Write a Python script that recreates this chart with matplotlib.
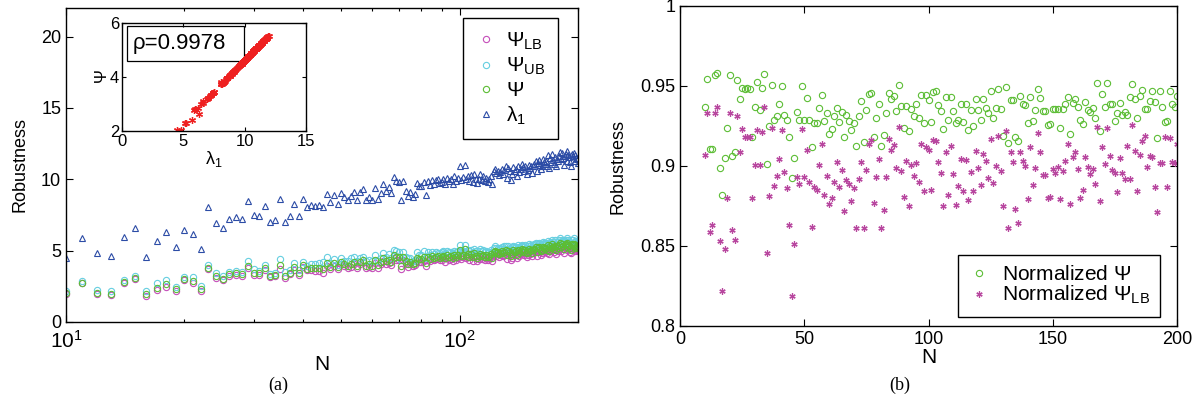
import numpy as np
import matplotlib.pyplot as plt
from matplotlib.patches import Rectangle
from matplotlib.ticker import FixedLocator, FixedFormatter, NullFormatter, LogLocator

plt.rcParams['font.family'] = ['Liberation Sans', 'DejaVu Sans']
plt.rcParams['mathtext.fontset'] = 'custom'
plt.rcParams['mathtext.rm'] = 'Liberation Sans'
plt.rcParams['mathtext.it'] = 'Liberation Sans:italic'
plt.rcParams['mathtext.bf'] = 'Liberation Sans:bold'

# network size N (10..200)
N = np.arange(10, 201)

# largest eigenvalue lambda_1
lam1 = [4.45, 5.86, 4.81, 4.64, 5.98, 6.59, 4.55, 5.70, 6.28, 5.25,
        6.45, 6.19, 5.13, 8.04, 6.96, 6.59, 7.25, 7.39, 7.25, 8.49,
        7.50, 7.43, 8.16, 7.01, 7.15, 8.60, 7.01, 7.46, 8.28, 7.43,
        8.60, 8.09, 8.21, 8.14, 8.21, 8.09, 8.96, 8.39, 8.93, 8.28,
        9.07, 8.75, 8.56, 8.84, 9.12, 8.56, 9.10, 9.33, 8.56, 8.79,
        8.56, 9.38, 8.60, 9.07, 9.64, 9.21, 9.45, 9.07, 10.15, 9.89,
        9.78, 8.56, 9.85, 9.21, 8.84, 9.14, 8.79, 8.96, 9.73, 9.50,
        9.50, 9.78, 8.91, 9.85, 9.60, 9.95, 9.70, 9.92, 10.00, 9.75,
        9.80, 10.05, 9.65, 10.10, 9.85, 10.00, 9.70, 10.20, 9.90, 10.10,
        10.90, 9.95, 10.15, 11.00, 10.00, 10.25, 9.90, 10.30, 9.80, 10.40,
        10.05, 9.75, 10.00, 10.35, 9.95, 10.20, 9.85, 10.10, 9.80, 10.00,
        10.25, 9.70, 10.55, 10.70, 10.45, 10.60, 10.30, 10.50, 10.75, 10.40,
        10.65, 10.90, 10.10, 10.80, 10.55, 9.95, 10.35, 10.85, 10.60, 10.70,
        10.20, 10.95, 10.50, 10.75, 11.05, 10.85, 10.60, 10.95, 10.40, 10.65,
        11.00, 10.80, 10.90, 10.45, 10.95, 11.10, 11.30, 10.55, 11.15, 11.35,
        11.00, 10.70, 10.95, 11.40, 11.20, 11.05, 11.25, 10.90, 11.70, 10.80,
        11.50, 11.20, 11.80, 11.35, 11.10, 11.55, 10.90, 11.45, 11.25, 11.60,
        11.90, 11.40, 11.85, 11.50, 11.00, 11.65, 11.75, 11.95, 11.30, 11.70,
        11.55, 11.20, 10.95, 11.80, 11.60, 11.85, 11.25, 11.70, 11.50, 11.40,
        11.15]

psi = [2.05, 2.76, 2.05, 1.98, 2.83, 3.11, 1.94, 2.40, 2.64, 2.29,
       3.00, 2.85, 2.30, 3.80, 3.20, 3.03, 3.34, 3.40, 3.34, 3.91,
       3.45, 3.42, 3.76, 3.22, 3.29, 3.97, 3.22, 3.43, 3.82, 3.42,
       3.97, 3.73, 3.78, 3.75, 3.78, 3.73, 4.13, 3.87, 4.12, 3.82,
       4.19, 4.04, 3.95, 4.08, 4.21, 3.95, 4.20, 4.31, 3.95, 4.05,
       3.95, 4.33, 3.97, 4.19, 4.45, 4.25, 4.36, 4.19, 4.69, 4.57,
       4.52, 3.95, 4.55, 4.25, 4.08, 4.22, 4.05, 4.13, 4.49, 4.39,
       4.39, 4.52, 4.11, 4.55, 4.43, 4.60, 4.48, 4.58, 4.62, 4.50,
       4.53, 4.64, 4.46, 4.67, 4.55, 4.62, 4.48, 4.71, 4.57, 4.67,
       5.04, 4.60, 4.69, 5.09, 4.62, 4.74, 4.57, 4.76, 4.53, 4.81,
       4.64, 4.50, 4.62, 4.78, 4.60, 4.71, 4.55, 4.67, 4.53, 4.62,
       4.74, 4.48, 4.88, 4.95, 4.83, 4.90, 4.76, 4.85, 4.97, 4.81,
       4.92, 5.04, 4.67, 4.99, 4.88, 4.60, 4.78, 5.02, 4.90, 4.95,
       4.71, 5.06, 4.85, 4.97, 5.11, 5.02, 4.90, 5.06, 4.81, 4.92,
       5.09, 4.99, 5.04, 4.83, 5.06, 5.13, 5.23, 4.88, 5.16, 5.25,
       5.09, 4.95, 5.06, 5.27, 5.18, 5.11, 5.20, 5.04, 5.41, 4.99,
       5.32, 5.18, 5.46, 5.25, 5.13, 5.34, 5.04, 5.30, 5.20, 5.37,
       5.51, 5.27, 5.48, 5.32, 5.09, 5.39, 5.44, 5.53, 5.23, 5.41,
       5.34, 5.18, 5.06, 5.46, 5.37, 5.48, 5.20, 5.41, 5.32, 5.27,
       5.16]

psi_ub = [2.19, 2.89, 2.25, 2.17, 2.96, 3.25, 2.16, 2.72, 2.92, 2.48,
          3.13, 3.15, 2.53, 3.98, 3.40, 3.19, 3.52, 3.58, 3.52, 4.26,
          3.68, 3.59, 4.02, 3.39, 3.44, 4.40, 3.48, 3.61, 4.11, 3.67,
          4.23, 3.93, 4.06, 4.04, 4.12, 4.18, 4.56, 4.15, 4.43, 4.02,
          4.51, 4.29, 4.25, 4.47, 4.54, 4.26, 4.49, 4.56, 4.26, 4.34,
          4.29, 4.69, 4.26, 4.48, 4.80, 4.55, 4.75, 4.50, 5.05, 4.95,
          4.88, 4.33, 4.89, 4.52, 4.46, 4.51, 4.29, 4.37, 4.89, 4.72,
          4.68, 4.95, 4.47, 4.88, 4.68, 4.88, 4.75, 4.90, 4.86, 4.80,
          4.90, 4.95, 4.84, 4.99, 4.88, 4.92, 4.82, 4.99, 4.93, 4.94,
          5.36, 4.96, 4.96, 5.38, 4.93, 5.07, 4.95, 5.05, 4.88, 5.10,
          4.97, 4.86, 4.97, 5.09, 4.96, 5.02, 4.93, 4.99, 4.90, 4.90,
          5.07, 4.82, 5.18, 5.29, 5.18, 5.17, 5.12, 5.18, 5.24, 5.14,
          5.35, 5.31, 5.11, 5.30, 5.18, 5.01, 5.22, 5.32, 5.22, 5.28,
          5.08, 5.36, 5.23, 5.32, 5.39, 5.33, 5.24, 5.41, 5.20, 5.31,
          5.44, 5.33, 5.39, 5.23, 5.41, 5.47, 5.55, 5.30, 5.49, 5.57,
          5.43, 5.33, 5.46, 5.61, 5.54, 5.47, 5.56, 5.42, 5.68, 5.41,
          5.63, 5.53, 5.74, 5.59, 5.46, 5.75, 5.40, 5.64, 5.58, 5.75,
          5.91, 5.59, 5.76, 5.65, 5.47, 5.71, 5.74, 5.91, 5.59, 5.75,
          5.64, 5.51, 5.52, 5.77, 5.73, 5.91, 5.60, 5.71, 5.67, 5.62,
          5.47]

psi_lb = [1.98, 2.70, 1.93, 1.88, 2.76, 3.04, 1.84, 2.24, 2.47, 2.18,
          2.92, 2.71, 2.16, 3.71, 3.09, 2.95, 3.23, 3.29, 3.23, 3.75,
          3.31, 3.31, 3.62, 3.12, 3.22, 3.72, 3.07, 3.33, 3.65, 3.28,
          3.83, 3.62, 3.64, 3.58, 3.55, 3.42, 3.89, 3.70, 3.94, 3.71,
          4.03, 3.90, 3.79, 3.85, 4.03, 3.77, 4.04, 4.17, 3.75, 3.88,
          3.76, 4.13, 3.79, 4.04, 4.25, 4.08, 4.14, 4.01, 4.49, 4.35,
          4.32, 3.73, 4.36, 4.08, 3.84, 4.05, 3.92, 4.00, 4.29, 4.22,
          4.23, 4.26, 3.90, 4.36, 4.29, 4.44, 4.34, 4.40, 4.49, 4.31,
          4.32, 4.47, 4.23, 4.50, 4.36, 4.44, 4.29, 4.56, 4.36, 4.51,
          4.88, 4.39, 4.54, 4.92, 4.45, 4.54, 4.33, 4.59, 4.30, 4.65,
          4.45, 4.25, 4.41, 4.61, 4.39, 4.54, 4.33, 4.47, 4.33, 4.46,
          4.56, 4.28, 4.70, 4.78, 4.62, 4.74, 4.55, 4.66, 4.81, 4.61,
          4.69, 4.89, 4.40, 4.82, 4.68, 4.37, 4.51, 4.83, 4.71, 4.75,
          4.47, 4.89, 4.64, 4.78, 4.96, 4.84, 4.69, 4.84, 4.57, 4.68,
          4.89, 4.78, 4.85, 4.60, 4.85, 4.94, 5.07, 4.65, 4.97, 5.06,
          4.88, 4.69, 4.83, 5.08, 4.98, 4.89, 4.99, 4.82, 5.25, 4.75,
          5.13, 4.98, 5.30, 5.06, 4.90, 5.15, 4.77, 5.10, 5.00, 5.13,
          5.40, 4.98, 5.33, 5.14, 4.84, 5.18, 5.25, 5.43, 5.03, 5.21,
          5.11, 4.89, 4.81, 5.20, 5.17, 5.43, 4.97, 5.24, 5.12, 5.07,
          5.00]

norm_psi = [.937, .9546, .9106, .9106, .957, .9583, .8985, .882, .905, .924,
            .957, .906, .9088, .9538, .9417, .949, .948, .949, .948, .918,
            .937, .9525, .935, .9488, .9575, .9015, .925, .9504, .929, .9315,
            .939, .95, .932, .929, .918, .8925, .905, .9335, .929, .95,
            .929, .9427, .9285, .912, .927, .927, .936, .9446, .928, .9333,
            .92, .9231, .9315, .936, .9277, .934, .9183, .9319, .9283, .9227,
            .9269, .9123, .931, .9408, .915, .935, .9448, .9458, .9181, .93,
            .939, .9127, .9194, .933, .9458, .9417, .9438, .9344, .9504, .9375,
            .924, .9377, .9217, .9358, .9315, .939, .9298, .9446, .9267, .9446,
            .941, .9273, .946, .9467, .938, .9342, .9233, .9433, .9285, .9433,
            .9344, .9267, .9288, .9385, .9273, .9385, .9227, .9352, .9252, .9419,
            .935, .929, .9419, .9365, .9333, .9469, .9298, .9365, .948, .9354,
            .9188, .9496, .9146, .9411, .9415, .9183, .9156, .9438, .939, .938,
            .9267, .9433, .928, .935, .948, .9423, .9346, .9346, .9254, .9263,
            .9354, .9356, .9356, .924, .9358, .9386, .943, .92, .9396, .942,
            .937, .9288, .9263, .9398, .935, .934, .936, .9298, .9517, .922,
            .9448, .937, .952, .9388, .9388, .9283, .933, .9396, .9319, .934,
            .9317, .9433, .9513, .942, .93, .944, .9475, .9356, .9356, .9406,
            .947, .9402, .9175, .947, .937, .9277, .928, .947, .9385, .937,
            .944]

norm_psi_lb = [.9067, .933, .859, .863, .9333, .9367, .853, .822, .848, .88,
               .933, .86, .8536, .931, .909, .923, .918, .918, .918, .88,
               .9006, .9225, .9006, .921, .937, .8458, .881, .9235, .8877, .8936,
               .9046, .9227, .8964, .8864, .8633, .8188, .8514, .893, .889, .923,
               .893, .910, .890, .8617, .8867, .885, .9004, .9136, .882, .894,
               .876, .880, .890, .9023, .8867, .8977, .8719, .8913, .8886, .8783,
               .8863, .861, .892, .9027, .861, .8973, .9138, .916, .877, .8931,
               .9046, .861, .8727, .8933, .9167, .91, .913, .8988, .9246, .897,
               .8808, .9033, .875, .9008, .8936, .9017, .890, .9136, .8844, .9117,
               .91, .8852, .916, .9154, .9025, .8954, .875, .909, .8819, .9125,
               .8948, .8754, .8873, .9046, .8846, .9038, .8786, .8961, .8844, .9096,
               .899, .888, .9073, .9031, .8925, .9167, .8896, .900, .9188, .8969,
               .8752, .922, .8614, .9085, .9023, .873, .8642, .9085, .9031, .900,
               .8794, .9117, .8883, .8988, .9208, .909, .8944, .8942, .88, .8804,
               .8983, .8958, .8996, .8796, .8969, .903, .9136, .8764, .9058, .9088,
               .8983, .8798, .885, .9058, .8996, .8948, .8979, .8888, .9246, .8779,
               .912, .901, .924, .906, .8975, .8954, .884, .905, .8954, .8917,
               .9127, .8917, .9254, .9096, .8842, .9067, .9154, .9188, .8996, .9065,
               .9054, .8867, .8715, .902, .902, .9183, .8867, .9175, .9027, .9017,
               .9138]

c_lb = '#c64fba'
c_ub = '#66cfe0'
c_psi = '#5cbd35'
c_lam = '#2c4ca6'
c_star = '#b8479f'
c_red = '#ee2020'
asterisk = (6, 2, 0)


def matlab_axes(ax, size=13):
    ax.tick_params(which='both', direction='in', top=True, right=True,
                   labelsize=size, width=0.8)
    ax.tick_params(which='major', length=5)
    ax.tick_params(which='minor', length=2.5)
    for s in ax.spines.values():
        s.set_linewidth(1.0)


fig = plt.figure(figsize=(12.03, 4.09), dpi=100)

# (a) robustness vs N, log x
ax1 = fig.add_axes([66 / 1203, 1 - 322 / 409, 512 / 1203, 314 / 409])
ax1.plot(N, psi_lb, 'o', mfc='none', mec=c_lb, ms=4.5, mew=0.8, label=r'$\Psi_{\rm LB}$')
ax1.plot(N, psi_ub, 'o', mfc='none', mec=c_ub, ms=4.5, mew=0.8, label=r'$\Psi_{\rm UB}$')
ax1.plot(N, psi, 'o', mfc='none', mec=c_psi, ms=4.5, mew=0.8, label=r'$\Psi$')
ax1.plot(N, lam1, '^', mfc='none', mec=c_lam, ms=4.8, mew=0.8, label=r'$\mathrm{\lambda}_{\rm 1}$')
ax1.set_xscale('log')
ax1.set_xlim(10, 200)
ax1.set_ylim(0, 22)
ax1.set_yticks([0, 5, 10, 15, 20])
ax1.xaxis.set_major_locator(FixedLocator([10, 100]))
ax1.xaxis.set_major_formatter(FixedFormatter([r'$10^{1}$', r'$10^{2}$']))
ax1.xaxis.set_minor_locator(LogLocator(subs=np.arange(2, 10)))
ax1.xaxis.set_minor_formatter(NullFormatter())
matlab_axes(ax1)
ax1.tick_params(axis='x', labelsize=15, pad=6)
ax1.set_xlabel('N', fontsize=15, labelpad=2)
ax1.set_ylabel('Robustness', fontsize=13, labelpad=9)
ax1.legend(loc='upper right', bbox_to_anchor=(0.961, 0.968), borderaxespad=0,
           fontsize=15, labelspacing=0.2, handlelength=1.0, handletextpad=0.5,
           borderpad=0.6, fancybox=False, edgecolor='black', framealpha=1)

# inset: psi vs lambda_1
ins = fig.add_axes([122 / 1203, 1 - 131 / 409, 184 / 1203, 108 / 409])
ins.plot(lam1, psi, ls='none', marker=asterisk, ms=5, mew=0.9, color=c_red)
ins.set_xlim(0, 15)
ins.set_ylim(2, 6)
ins.set_xticks([0, 5, 10, 15])
ins.set_yticks([2, 4, 6])
matlab_axes(ins, size=12)
ins.tick_params(which='major', length=3, pad=2)
ins.set_xlabel(r'$\mathrm{\lambda}_{\rm 1}$', fontsize=13, labelpad=0)
ins.set_ylabel(r'$\Psi$', fontsize=12, labelpad=0)
ins.add_patch(Rectangle((0.025, 0.65), 0.64, 0.32, transform=ins.transAxes,
                        fill=False, edgecolor='black', linewidth=0.9))
ins.text(0.06, 0.81, 'ρ=0.9978', transform=ins.transAxes, fontsize=16,
         va='center', ha='left')

# (b) normalized robustness
ax2 = fig.add_axes([680 / 1203, 1 - 326 / 409, 497 / 1203, 320 / 409])
ax2.plot(N, norm_psi, 'o', mfc='none', mec=c_psi, ms=4.5, mew=0.8, label=r'Normalized $\Psi$')
ax2.plot(N, norm_psi_lb, ls='none', marker=asterisk, ms=4.5, mew=0.9, color=c_star,
         label=r'Normalized $\Psi_{\rm LB}$')
ax2.set_xlim(0, 200)
ax2.set_ylim(0.8, 1.0)
ax2.set_xticks([0, 50, 100, 150, 200])
ax2.set_yticks([0.8, 0.85, 0.9, 0.95, 1.0])
ax2.set_yticklabels(['0.8', '0.85', '0.9', '0.95', '1'])
matlab_axes(ax2)
ax2.set_xlabel('N', fontsize=15, labelpad=0)
ax2.set_ylabel('Robustness', fontsize=13, labelpad=10)
ax2.legend(loc='lower right', bbox_to_anchor=(0.966, 0.029), borderaxespad=0,
           fontsize=15, labelspacing=0.0, handlelength=1.0, handletextpad=0.6,
           borderpad=0.5, fancybox=False, edgecolor='black', framealpha=1)

fig.text(278 / 1203, 1 - 390 / 409, '(a)', fontsize=13, family='Liberation Serif', ha='center')
fig.text(900 / 1203, 1 - 390 / 409, '(b)', fontsize=13, family='Liberation Serif', ha='center')

fig.savefig('out.png', dpi=100)
